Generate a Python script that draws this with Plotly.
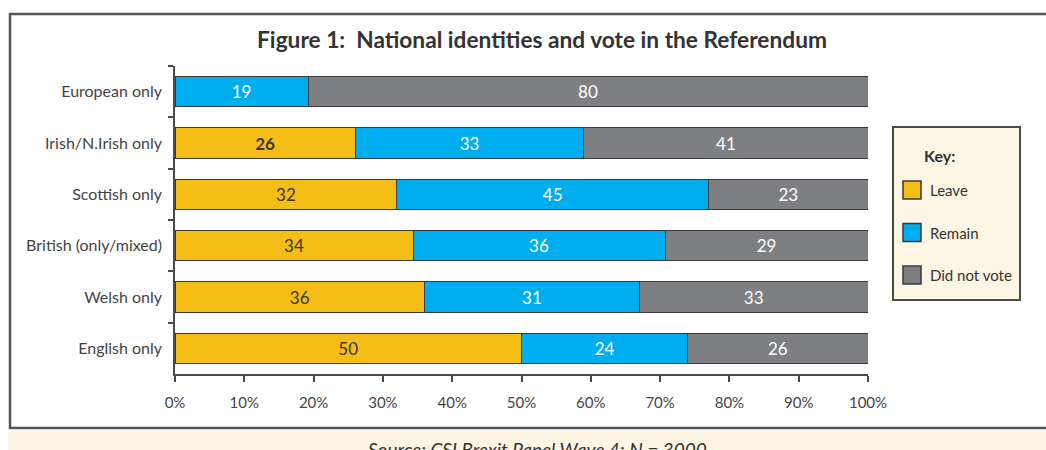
import plotly.graph_objects as go

# Survey groups (top to bottom) and vote shares (%)
identities = ["European only", "Irish/N.Irish only", "Scottish only",
              "British (only/mixed)", "Welsh only", "English only"]
leave = [0, 26, 32, 34, 36, 50]
remain = [19, 33, 45, 36, 31, 24]
did_not_vote = [80, 41, 23, 29, 33, 26]

series_names = ["Leave", "Remain", "Did not vote"]
series_colors = ["#F5BE16", "#00AEEF", "#7E7F83"]
label_colors = ["#3B3616", "#FFFFFF", "#FFFFFF"]
x_ticks = [0, 10, 20, 30, 40, 50, 60, 70, 80, 90, 100]
x_tick_labels = [f"{t}%" for t in x_ticks]

W, H = 1046, 450
FONT = "Lato, 'Open Sans', sans-serif"


def px(x):
    return x / W


def py(y):
    return 1 - y / H


def fmt(v, name):
    if v <= 0:
        return ""
    # the Irish/N.Irish leave share is emphasised in bold
    return f"<b>{v}</b>" if (name == "Leave" and v == 26) else str(v)


fig = go.Figure()
for name, vals, col, tcol in zip(series_names, [leave, remain, did_not_vote],
                                 series_colors, label_colors):
    fig.add_trace(go.Bar(
        y=identities, x=vals, name=name, orientation="h",
        marker=dict(color=col, line=dict(color="#3A3A3A", width=1)),
        text=[fmt(v, name) for v in vals],
        textposition="inside", insidetextanchor="middle",
        textfont=dict(color=tcol, size=17, family=FONT),
        width=0.59, showlegend=False, hoverinfo="skip",
    ))

shapes = [
    # outer frame
    dict(type="rect", xref="paper", yref="paper", x0=px(10), x1=px(1070),
         y0=py(428), y1=py(14), line=dict(color="#555555", width=2.5),
         fillcolor="rgba(0,0,0,0)", layer="below"),
    # source strip
    dict(type="rect", xref="paper", yref="paper", x0=px(8), x1=px(1060),
         y0=py(460), y1=py(431), line=dict(width=0), fillcolor="#FCF5E3",
         layer="below"),
    # key box
    dict(type="rect", xref="paper", yref="paper", x0=px(893), x1=px(1020),
         y0=py(300), y1=py(127), line=dict(color="#4A4A4A", width=2),
         fillcolor="#FDF6E5"),
]
annotations = [
    dict(text="<b>Key:</b>", xref="paper", yref="paper", x=px(957), y=py(155),
         showarrow=False, font=dict(size=16, color="#333333", family=FONT)),
    dict(text="<i>Source: CSI Brexit Panel Wave 4; N = 3000</i>", xref="paper",
         yref="paper", x=px(537), y=py(436), yanchor="top", showarrow=False,
         font=dict(size=19, color="#333333", family=FONT)),
]
for i, (name, col) in enumerate(zip(series_names, series_colors)):
    yc = 190 + 42.5 * i
    shapes.append(dict(type="rect", xref="paper", yref="paper",
                       x0=px(903), x1=px(921), y0=py(yc + 9), y1=py(yc - 9),
                       fillcolor=col, line=dict(color="#3A3A3A", width=1.5)))
    annotations.append(dict(text=name, xref="paper", yref="paper",
                            x=px(928), y=py(yc), xanchor="left", showarrow=False,
                            font=dict(size=15, color="#333333", family=FONT)))

fig.update_layout(
    width=W, height=H, barmode="stack", barnorm="percent",
    margin=dict(l=0, r=0, t=0, b=0, autoexpand=False),
    paper_bgcolor="white", plot_bgcolor="white",
    title=dict(text="<b>Figure 1:  National identities and vote in the Referendum</b>",
               xref="paper", x=px(542), xanchor="center", y=py(40), yanchor="middle",
               font=dict(size=22.7, color="#333333", family=FONT)),
    font=dict(family=FONT, color="#333333"),
    xaxis=dict(domain=[px(175), px(868)], range=[0, 100], tickvals=x_ticks,
               ticktext=x_tick_labels, showgrid=False, zeroline=False,
               showline=True, linecolor="#4A4A4A", linewidth=1.5,
               ticks="outside", ticklen=6, tickcolor="#4A4A4A", tickwidth=1.5,
               tickfont=dict(size=15, color="#444444"), ticklabelstandoff=8,
               automargin=False, fixedrange=True),
    yaxis=dict(domain=[py(374), py(66)], autorange="reversed",
               showgrid=False, showline=True, linecolor="#4A4A4A", linewidth=1.5,
               ticks="outside", tickson="boundaries", ticklen=5,
               tickcolor="#4A4A4A", tickwidth=1.5,
               tickfont=dict(size=16, color="#444444"), ticklabelstandoff=8,
               automargin=False, fixedrange=True),
    shapes=shapes, annotations=annotations,
    uniformtext=dict(mode="show", minsize=10),
)

fig.write_html("out.html")
